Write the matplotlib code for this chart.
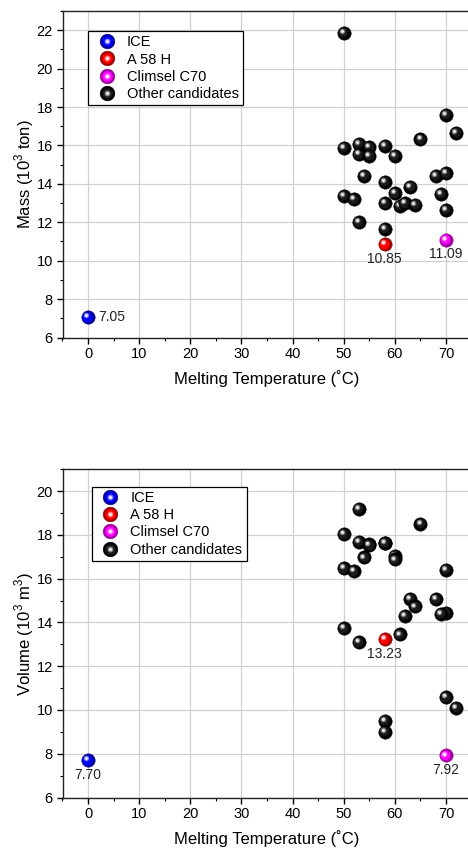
import matplotlib
matplotlib.use("Agg")
import matplotlib.pyplot as plt
import matplotlib.transforms as mtransforms
from matplotlib.lines import Line2D
from matplotlib.legend_handler import HandlerTuple
from matplotlib.ticker import MultipleLocator

plt.rcParams['font.family'] = ['Liberation Sans', 'DejaVu Sans']
plt.rcParams['mathtext.fontset'] = 'custom'
plt.rcParams['mathtext.rm'] = 'Liberation Sans'

# ---------------- data ----------------
series_names = ["ICE", "A 58 H", "Climsel C70", "Other candidates"]

ice_temp = [0]
a58_temp = [58]
c70_temp = [70]

ice_mass = [7.05]
a58_mass = [10.85]
c70_mass = [11.09]

ice_vol = [7.70]
a58_vol = [13.23]
c70_vol = [7.92]

other_temp = [50, 70, 72, 50, 53, 55, 53, 55, 58, 60, 65, 54, 58, 68,
              70, 63, 50, 52, 60, 69, 58, 61, 62, 64, 70, 53, 58]
other_mass = [21.87, 17.60, 16.64, 15.89, 16.08, 15.90, 15.54, 15.45, 15.99, 15.47, 16.32, 14.43, 14.11, 14.41,
              14.55, 13.85, 13.37, 13.20, 13.51, 13.47, 12.99, 12.85, 12.99, 12.90, 12.64, 12.00, 11.65]
other_vol = [18.03, 16.40, 10.09, 16.48, 17.70, 17.58, 19.18, 17.52, 17.61, 17.06, 18.52, 16.97, 9.49, 15.06,
             14.43, 15.09, 13.73, 16.34, 16.88, 14.40, 9.00, 13.45, 14.30, 14.73, 10.58, 13.09, 17.65]

x_ticks = [0, 10, 20, 30, 40, 50, 60, 70]
mass_ticks = [6, 8, 10, 12, 14, 16, 18, 20, 22]
vol_ticks = [6, 8, 10, 12, 14, 16, 18, 20]

# ---------------- styling ----------------
palette = {
    "ICE": ("#00009a", "#0000ff", "#d8d8ff"),
    "A 58 H": ("#a00000", "#ff0000", "#ffd0d0"),
    "Climsel C70": ("#a000a0", "#ff00ff", "#ffd8ff"),
    "Other candidates": ("#000000", "#1a1a1a", "#c8c8c8"),
}
MS = 9.6
TXT = "#222222"

fig = plt.figure(figsize=(4.68, 8.48), dpi=100)
W, H = 468.0, 848.0


def make_ax(top_px, bottom_px):
    left_px, right_px = 62.5, 62.5 + 80 * 5.114
    return fig.add_axes([left_px / W, 1 - bottom_px / H, (right_px - left_px) / W, (bottom_px - top_px) / H])


def sphere(ax, xs, ys, name, zbase):
    dark, mid, light = palette[name]
    off1 = mtransforms.offset_copy(ax.transData, fig=fig, x=-0.5, y=0.5, units='points')
    off2 = mtransforms.offset_copy(ax.transData, fig=fig, x=-1.4, y=1.4, units='points')
    for i, (x, y) in enumerate(zip(xs, ys)):
        z = zbase + i * 0.01
        ax.plot([x], [y], 'o', ms=MS, color=dark, mec=dark, mew=0.4, zorder=z, clip_on=False)
        ax.plot([x], [y], 'o', ms=MS * 0.72, color=mid, mew=0, zorder=z + 0.001, transform=off1, clip_on=False)
        ax.plot([x], [y], 'o', ms=MS * 0.42, color=light, mew=0, alpha=0.55, zorder=z + 0.002, transform=off2, clip_on=False)
        ax.plot([x], [y], 'o', ms=MS * 0.22, color='white', mew=0, alpha=0.9, zorder=z + 0.003, transform=off2, clip_on=False)


def style_ax(ax, yticks, ylim, ylabel):
    ax.set_xlim(-5, 75)
    ax.set_ylim(*ylim)
    ax.set_xticks(x_ticks)
    ax.set_yticks(yticks)
    ax.xaxis.set_minor_locator(MultipleLocator(5))
    ax.yaxis.set_minor_locator(MultipleLocator(1))
    ax.tick_params(which='major', direction='out', length=4, width=1, labelsize=10.5, colors='black', pad=3)
    ax.tick_params(which='minor', direction='out', length=2.2, width=0.8)
    ax.tick_params(top=False, right=False)
    ax.grid(True, which='major', color='#d0d0d0', linewidth=0.9, zorder=0)
    ax.set_axisbelow(True)
    for s in ax.spines.values():
        s.set_linewidth(1.0)
        s.set_color('#222222')
    ax.set_xlabel("Melting Temperature (\u02daC)", fontsize=12, labelpad=6.5)
    ax.set_ylabel(ylabel, fontsize=12, labelpad=0.5)


def legend_handles():
    hs = []
    lm = MS * 1.1
    for n in series_names:
        dark, mid, light = palette[n]
        h1 = Line2D([], [], ls='none', marker='o', ms=lm, color=dark, mec=dark, mew=0.4)
        h2 = Line2D([], [], ls='none', marker='o', ms=lm * 0.72, color=mid, mew=0)
        h3 = Line2D([], [], ls='none', marker='o', ms=lm * 0.4, color=light, mew=0, alpha=0.6)
        h4 = Line2D([], [], ls='none', marker='o', ms=lm * 0.2, color='white', mew=0, alpha=0.9)
        hs.append((h1, h2, h3, h4))
    return hs


def add_legend(ax, anchor):
    leg = ax.legend(legend_handles(), series_names, handler_map={tuple: HandlerTuple(ndivide=1, pad=0)},
                    loc='upper left', bbox_to_anchor=anchor, fontsize=10.5, frameon=True,
                    fancybox=False, edgecolor='black', framealpha=1, borderpad=0.3,
                    labelspacing=0.22, handletextpad=0.36, handlelength=2.0, borderaxespad=0)
    leg.get_frame().set_linewidth(0.9)
    leg.set_zorder(20)


# ---------------- top panel: mass ----------------
ax1 = make_ax(11, 337.5)
style_ax(ax1, mass_ticks, (6, 23), "Mass (10$^3$ ton)")
sphere(ax1, other_temp, other_mass, "Other candidates", 3)
sphere(ax1, ice_temp, ice_mass, "ICE", 5)
sphere(ax1, a58_temp, a58_mass, "A 58 H", 5)
sphere(ax1, c70_temp, c70_mass, "Climsel C70", 5)
ax1.annotate(f"{ice_mass[0]:.2f}", (ice_temp[0], ice_mass[0]), xytext=(7, 0), textcoords='offset points',
             ha='left', va='center', fontsize=10, color=TXT)
ax1.annotate(f"{a58_mass[0]:.2f}", (a58_temp[0], a58_mass[0]), xytext=(0, -10.5), textcoords='offset points',
             ha='center', va='center', fontsize=10, color=TXT)
ax1.annotate(f"{c70_mass[0]:.2f}", (c70_temp[0], c70_mass[0]), xytext=(0, -10.5), textcoords='offset points',
             ha='center', va='center', fontsize=10, color=TXT)
add_legend(ax1, (25.5 / 409.1, 1 - 20 / 326.5))

# ---------------- bottom panel: volume ----------------
ax2 = make_ax(469.3, 797.5)
style_ax(ax2, vol_ticks, (6, 21), "Volume (10$^3$ m$^3$)")
sphere(ax2, other_temp, other_vol, "Other candidates", 3)
sphere(ax2, ice_temp, ice_vol, "ICE", 5)
sphere(ax2, a58_temp, a58_vol, "A 58 H", 5)
sphere(ax2, c70_temp, c70_vol, "Climsel C70", 5)
for xs, ys in ((ice_temp, ice_vol), (a58_temp, a58_vol), (c70_temp, c70_vol)):
    ax2.annotate(f"{ys[0]:.2f}", (xs[0], ys[0]), xytext=(0, -10.5), textcoords='offset points',
                 ha='center', va='center', fontsize=10, color=TXT)
add_legend(ax2, (29 / 409.1, 1 - 17.4 / 328.2))

fig.savefig("out.png", dpi=100)
